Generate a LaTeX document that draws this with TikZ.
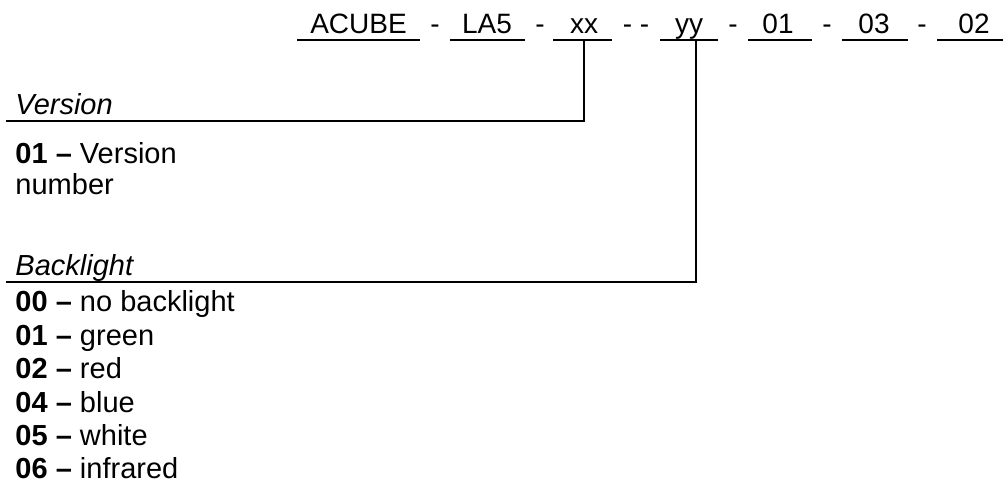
\documentclass[tikz,border=0pt]{standalone}
\usepackage{fontspec}
\setmainfont{Liberation Sans}
\begin{document}
\begin{tikzpicture}[x=0.5pt,y=-0.5pt,
  every node/.style={inner sep=0pt,outer sep=0pt,font=\fontsize{14}{16}\selectfont},
  codetext/.style={anchor=base},
  itemtext/.style={anchor=base west,font=\fontsize{14.5}{16}\selectfont},
  rule/.style={line width=1pt}]
\useasboundingbox (0,0) rectangle (1006,482);
% code line
\node[codetext] (acube) at (358.5,33) {ACUBE};
\node[codetext] (d1) at (435,33) {-};
\node[codetext] (la5) at (487,33) {LA5};
\node[codetext] (d2) at (540,33) {-};
\node[codetext] (xx) at (584,33) {xx};
\node[codetext] (d3) at (636,33) {- -};
\node[codetext] (yy) at (689,33) {yy};
\node[codetext] (d4) at (733,33) {-};
\node[codetext] (c01) at (778,33) {01};
\node[codetext] (d5) at (827,33) {-};
\node[codetext] (c03) at (874,33) {03};
\node[codetext] (d6) at (922,33) {-};
\node[codetext] (c02) at (974,33) {02};
% underlines
\draw[rule] (297,40) -- (420,40);
\draw[rule] (450,40) -- (525,40);
\draw[rule] (553,40) -- (612,40);
\draw[rule] (660,40) -- (718,40);
\draw[rule] (748,40) -- (812,40);
\draw[rule] (842,40) -- (908,40);
\draw[rule] (937,40) -- (1003,40);
% connectors
\coordinate (xxtap) at (584,40);
\coordinate (verend) at (6,121);
\coordinate (yytap) at (696,40);
\coordinate (backend) at (6,282);
\draw[rule] (xxtap) |- (verend);
\draw[rule] (yytap) |- (backend);
% Version
\node[itemtext] (vertitle) at (15.5,114.5) {\itshape Version};
\node[itemtext] (ver01) at (15.5,163) {\bfseries 01 –\mdseries{} Version};
\node[itemtext] (vernum) at (15.5,194) {number};
% Backlight
\node[itemtext] (bltitle) at (15.5,275) {\itshape Backlight};
\node[itemtext] (bl00) at (15.5,311.5) {\bfseries 00 –\mdseries{} no backlight};
\node[itemtext] (bl01) at (15.5,345) {\bfseries 01 –\mdseries{} green};
\node[itemtext] (bl02) at (15.5,378.5) {\bfseries 02 –\mdseries{} red};
\node[itemtext] (bl04) at (15.5,412) {\bfseries 04 –\mdseries{} blue};
\node[itemtext] (bl05) at (15.5,445.5) {\bfseries 05 –\mdseries{} white};
\node[itemtext] (bl06) at (15.5,478) {\bfseries 06 –\mdseries{} infrared};
\end{tikzpicture}
\end{document}
